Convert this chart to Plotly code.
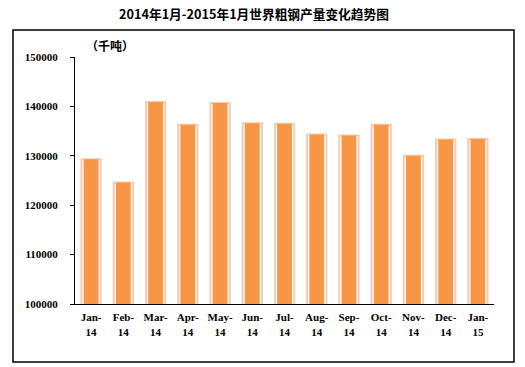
import plotly.graph_objects as go

categories = ["Jan-<br>14", "Feb-<br>14", "Mar-<br>14", "Apr-<br>14", "May-<br>14", "Jun-<br>14",
              "Jul-<br>14", "Aug-<br>14", "Sep-<br>14", "Oct-<br>14", "Nov-<br>14", "Dec-<br>14", "Jan-<br>15"]
production = [129300, 124600, 140900, 136300, 140700, 136600,
              136500, 134300, 134100, 136300, 130000, 133300, 133400]
y_ticks = [100000, 110000, 120000, 130000, 140000, 150000]

W, H = 525, 367
L, R, T, B = 75, 31, 57, 63
pw, ph = W - L - R, H - T - B

def px_x(p):
    return (p - L) / pw

def px_y(p):
    return (H - B - p) / ph

fig = go.Figure()
fig.add_trace(go.Bar(
    x=categories, y=production, width=0.6,
    marker=dict(color="white", line=dict(color="#F6CDB0", width=2)),
    hoverinfo="skip", showlegend=False,
))
fig.add_trace(go.Bar(
    x=categories, y=production, width=0.46,
    marker=dict(color="#F79646", line=dict(width=0)),
    showlegend=False,
))

font_tick = dict(family="Liberation Serif, DejaVu Serif, serif", size=11, color="black")

fig.update_layout(
    width=W, height=H,
    margin=dict(l=L, r=R, t=T, b=B, pad=0, autoexpand=False),
    paper_bgcolor="white", plot_bgcolor="white",
    barmode="overlay",
    xaxis=dict(
        showline=True, linecolor="black", linewidth=1,
        showgrid=False, ticks="", tickfont=font_tick,
        tickangle=0, range=[-0.5, 12.5], automargin=False,
        ticklabelstandoff=3,
        tickvals=categories, ticktext=["<b>" + c + "</b>" for c in categories],
    ),
    yaxis=dict(
        range=[100000, 150000], tickvals=y_ticks,
        ticktext=["<b>" + str(v) + "</b>" for v in y_ticks],
        showline=True, linecolor="black", linewidth=1,
        showgrid=False, ticks="outside", ticklen=4, tickcolor="black",
        tickfont=font_tick, ticklabelstandoff=10, automargin=False,
        zeroline=False,
    ),
    shapes=[dict(
        type="rect", xref="paper", yref="paper",
        x0=px_x(13), x1=px_x(514), y0=px_y(362), y1=px_y(30),
        line=dict(color="black", width=1.5), fillcolor="rgba(0,0,0,0)", layer="above",
    )],
    annotations=[
        dict(text="<b>2014年1月-2015年1月世界粗钢产量变化趋势图</b>",
             xref="paper", yref="paper", x=px_x(254), y=px_y(13),
             xanchor="center", yanchor="middle", showarrow=False,
             font=dict(family="Noto Sans CJK SC", size=12.7, color="black")),
        dict(text="<b>（千吨）</b>",
             xref="paper", yref="paper", x=px_x(84), y=px_y(46),
             xanchor="left", yanchor="middle", showarrow=False,
             font=dict(family="Noto Sans CJK SC", size=12, color="black")),
    ],
)

fig.write_html("out.html", config={"displayModeBar": False},
               post_script="document.body.style.margin='0';document.body.style.overflow='hidden';")
